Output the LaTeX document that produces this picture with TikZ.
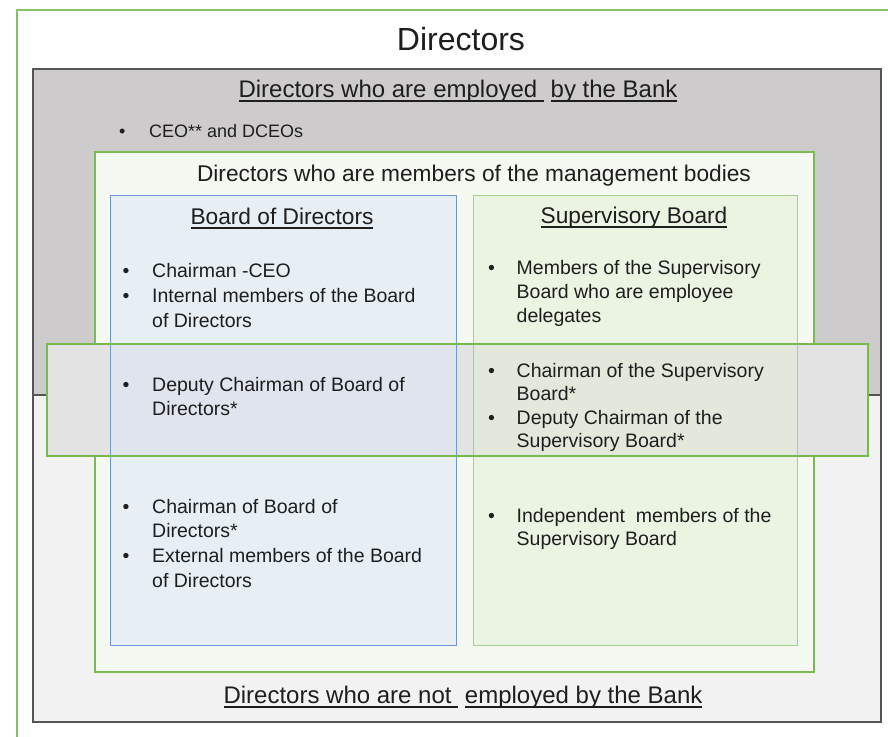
\documentclass[tikz,border=0pt]{standalone}
\usepackage{fontspec}
\setmainfont{Liberation Sans}
\definecolor{txtc}{RGB}{30,30,30}
\definecolor{framegreen}{RGB}{135,195,100}
\definecolor{mgmtgreen}{RGB}{125,185,85}
\definecolor{bandgreen}{RGB}{120,185,80}
\definecolor{sbgreen}{RGB}{165,208,135}
\definecolor{bodblue}{RGB}{115,150,215}
\definecolor{grayup}{RGB}{205,203,203}
\definecolor{graylow}{RGB}{242,242,242}
\definecolor{grayline}{RGB}{85,85,85}
\definecolor{mgmtfill}{RGB}{245,249,241}
\definecolor{bandfill}{RGB}{228,227,227}
\definecolor{bodfill}{RGB}{220,230,248}
\definecolor{sbfill}{RGB}{227,238,214}
\newcommand\myul[1]{\setbox0\hbox{#1}\rlap{\color{txtc}\rule[-4.5pt]{\wd0}{1.4pt}}\box0}
\begin{document}
\begin{tikzpicture}[x=1pt,y=-1pt,
  lbl/.style={text=txtc, inner sep=0pt},
  title/.style={lbl, font=\fontsize{32}{38}\selectfont, anchor=base},
  head/.style={lbl, font=\fontsize{24}{29}\selectfont, anchor=base},
  sub/.style={lbl, font=\fontsize{22.7}{27}\selectfont, anchor=base},
  item/.style={lbl, anchor=base west},
  graybox/.style={draw=grayline, line width=1.6pt},
  ]
\useasboundingbox (0,0) rectangle (888,736);
\clip (0,0) rectangle (888,736);
\fill[white] (0,0) rectangle (888,736);
% outer frame
\draw[framegreen, line width=2pt] (17,10) rectangle (920,760);
% employed / not employed
\filldraw[graybox, fill=grayup] (33,69) rectangle (881,395);
\filldraw[graybox, fill=graylow] (33,395) rectangle (881,722);
% management bodies
\filldraw[draw=mgmtgreen, line width=1.6pt, fill=mgmtfill] (95,152) rectangle (814,672);
% band
\fill[bandfill] (47,344) rectangle (868,456);
% boards
\filldraw[draw=bodblue, line width=1pt, fill=bodfill, fill opacity=0.5] (110,195) rectangle (456,645);
\filldraw[draw=sbgreen, line width=1pt, fill=sbfill, fill opacity=0.5] (473,195) rectangle (797,645);
\draw[bandgreen, line width=1.6pt] (47,344) rectangle (868,456);

% texts
\node[title] (t) at (461,50) {Directors};
\node[head] (emp) at (458,97) {\myul{Directors who are employed\ }\ \myul{by the Bank}};
\node[item, font=\fontsize{18}{24}\selectfont] (ceo) at (119,137)
  {\begin{tabular}[t]{@{}p{30pt}@{}l@{}}\textbullet & CEO** and DCEOs\end{tabular}};
\node[sub] (mgmt) at (474,181) {Directors who are members of the management bodies};
\node[sub] (bod) at (282,224) {\myul{Board of Directors}};
\node[sub] (sb) at (634,223) {\myul{Supervisory Board}};

\node[item, font=\fontsize{19.5}{25}\selectfont] (bod1) at (122.5,277)
  {\begin{tabular}[t]{@{}p{29.5pt}@{}l@{}}\textbullet & Chairman -CEO\\
  \textbullet & Internal members of the Board\\ & of Directors\end{tabular}};
\node[item, font=\fontsize{19.5}{24}\selectfont] (bod2) at (122.5,391)
  {\begin{tabular}[t]{@{}p{29.5pt}@{}l@{}}\textbullet & Deputy Chairman of Board of\\
  & Directors*\end{tabular}};
\node[item, font=\fontsize{19.5}{24.7}\selectfont] (bod3) at (122.5,513)
  {\begin{tabular}[t]{@{}p{29.5pt}@{}l@{}}\textbullet & Chairman of Board of\\
  & Directors*\\ \textbullet & External members of the Board\\ & of Directors\end{tabular}};

\node[item, font=\fontsize{19.5}{24}\selectfont] (sb1) at (488,274)
  {\begin{tabular}[t]{@{}p{28.5pt}@{}l@{}}\textbullet & Members of the Supervisory\\
  & Board who are employee\\ & delegates\end{tabular}};
\node[item, font=\fontsize{19.5}{23.5}\selectfont] (sb2) at (488,377)
  {\begin{tabular}[t]{@{}p{28.5pt}@{}l@{}}\textbullet & Chairman of the Supervisory\\
  & Board*\\ \textbullet & Deputy Chairman of the\\ & Supervisory Board*\end{tabular}};
\node[item, font=\fontsize{19.5}{23.5}\selectfont] (sb3) at (488,522)
  {\begin{tabular}[t]{@{}p{28.5pt}@{}l@{}}\textbullet & Independent\ \ members of the\\
  & Supervisory Board\end{tabular}};

\node[head] (nemp) at (463,703) {\myul{Directors who are not\ }\ \myul{employed by the Bank}};
\end{tikzpicture}
\end{document}
